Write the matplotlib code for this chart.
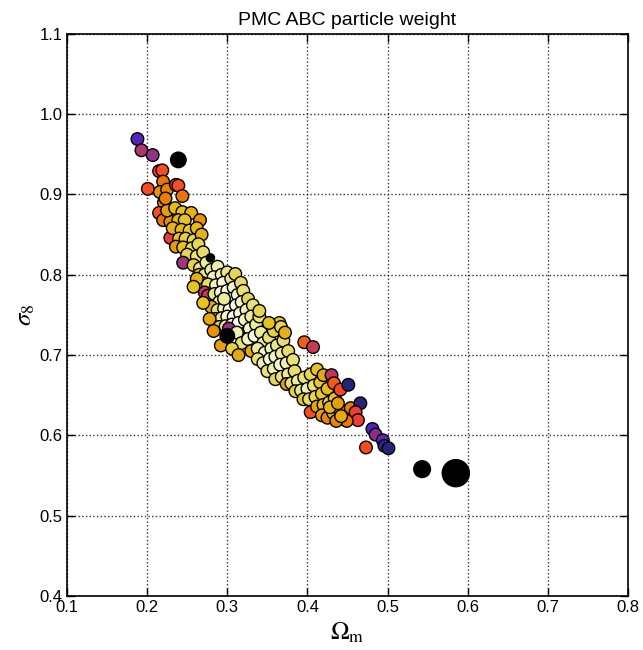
import numpy as np
import matplotlib
matplotlib.use('Agg')
import matplotlib.pyplot as plt

# particle positions (Omega_m, sigma_8) and normalised weights
omega_m = [
    0.201, 0.215, 0.219, 0.220, 0.216, 0.225, 0.221, 0.215, 0.220, 0.229, 0.236, 0.239, 0.244, 0.229, 0.225, 0.223,
    0.235, 0.244, 0.255, 0.239, 0.247, 0.266, 0.232, 0.243, 0.253, 0.262, 0.240, 0.248, 0.258, 0.268, 0.236, 0.245,
    0.256, 0.264, 0.250, 0.262, 0.270, 0.245, 0.258, 0.266, 0.274,
    0.265, 0.272, 0.280, 0.288, 0.283, 0.293, 0.300, 0.268, 0.276, 0.286, 0.295, 0.305, 0.310, 0.272, 0.276, 0.284,
    0.292, 0.300, 0.308, 0.317, 0.290, 0.298, 0.305, 0.313, 0.320, 0.280, 0.288, 0.296, 0.303, 0.311, 0.318, 0.326,
    0.285, 0.293, 0.300, 0.308, 0.316, 0.324, 0.332, 0.290, 0.298, 0.306, 0.314, 0.322, 0.330, 0.302, 0.320, 0.312,
    0.328, 0.336, 0.340, 0.318, 0.326, 0.334, 0.342,
    0.345, 0.352, 0.358, 0.365, 0.367, 0.330, 0.338, 0.347, 0.355, 0.362, 0.370, 0.338, 0.345, 0.353, 0.360, 0.368,
    0.376, 0.350, 0.358, 0.366, 0.374, 0.382, 0.360, 0.368, 0.376, 0.384,
    0.374, 0.380, 0.388, 0.396, 0.404, 0.412, 0.396, 0.407, 0.385, 0.392, 0.400, 0.408, 0.416, 0.420, 0.395, 0.402,
    0.410, 0.418, 0.425, 0.404, 0.412, 0.420, 0.427, 0.434,
    0.418, 0.425, 0.432, 0.440, 0.447, 0.454, 0.430, 0.433, 0.441, 0.451, 0.466, 0.460, 0.463, 0.449, 0.436, 0.442,
    0.428, 0.438,
    0.262, 0.270, 0.278, 0.258, 0.283, 0.292, 0.306, 0.314, 0.296, 0.352, 0.340, 0.372,
    0.473, 0.481, 0.485, 0.494, 0.496, 0.501,
    0.188, 0.193, 0.207,
    0.279, 0.239, 0.300, 0.543, 0.585,
]
sigma_8 = [
    0.907, 0.929, 0.930, 0.916, 0.903, 0.906, 0.890, 0.877, 0.868, 0.866, 0.912, 0.911, 0.898, 0.846, 0.880, 0.895,
    0.883, 0.878, 0.877, 0.868, 0.868, 0.868, 0.858, 0.856, 0.855, 0.858, 0.845, 0.845, 0.843, 0.850, 0.835, 0.834,
    0.833, 0.838, 0.825, 0.823, 0.828, 0.815, 0.812, 0.808, 0.815,
    0.800, 0.800, 0.806, 0.810, 0.797, 0.800, 0.803, 0.790, 0.788, 0.787, 0.790, 0.795, 0.801, 0.778, 0.774, 0.776,
    0.778, 0.780, 0.784, 0.790, 0.766, 0.768, 0.770, 0.775, 0.780, 0.760, 0.756, 0.758, 0.757, 0.762, 0.766, 0.770,
    0.745, 0.746, 0.748, 0.748, 0.752, 0.756, 0.762, 0.735, 0.736, 0.738, 0.740, 0.744, 0.748, 0.733, 0.723, 0.728,
    0.733, 0.738, 0.748, 0.715, 0.720, 0.724, 0.728,
    0.715, 0.722, 0.730, 0.740, 0.735, 0.705, 0.708, 0.703, 0.708, 0.712, 0.718, 0.695, 0.690, 0.695, 0.698, 0.702,
    0.705, 0.680, 0.683, 0.688, 0.690, 0.694, 0.670, 0.673, 0.676, 0.680,
    0.664, 0.665, 0.668, 0.672, 0.676, 0.682, 0.716, 0.710, 0.655, 0.656, 0.658, 0.662, 0.666, 0.675, 0.645, 0.645,
    0.648, 0.652, 0.658, 0.629, 0.636, 0.638, 0.641, 0.646,
    0.625, 0.622, 0.628, 0.632, 0.630, 0.634, 0.675, 0.665, 0.657, 0.663, 0.640, 0.629, 0.619, 0.618, 0.618, 0.624,
    0.635, 0.640,
    0.795, 0.765, 0.745, 0.785, 0.730, 0.712, 0.708, 0.700, 0.770, 0.740, 0.755, 0.728,
    0.585, 0.608, 0.601, 0.594, 0.587, 0.584,
    0.969, 0.955, 0.949,
    0.821, 0.943, 0.724, 0.558, 0.553,
]
weight = [
    0.52, 0.50, 0.52, 0.60, 0.66, 0.64, 0.66, 0.52, 0.60, 0.66, 0.50, 0.52, 0.60, 0.47, 0.68, 0.62,
    0.74, 0.75, 0.72, 0.73, 0.76, 0.66, 0.72, 0.74, 0.78, 0.74, 0.76, 0.80, 0.82, 0.72, 0.68, 0.76,
    0.84, 0.82, 0.82, 0.86, 0.84, 0.38, 0.80, 0.88, 0.90,
    0.72, 0.88, 0.90, 0.92, 0.94, 0.92, 0.88, 0.76, 0.84, 0.94, 0.97, 0.88, 0.82, 0.42, 0.44, 0.88,
    0.96, 0.98, 0.94, 0.84, 0.90, 0.97, 0.99, 0.95, 0.86, 0.70, 0.86, 0.94, 0.97, 0.98, 0.94, 0.82,
    0.74, 0.88, 0.94, 0.98, 0.96, 0.92, 0.86, 0.80, 0.90, 0.96, 0.98, 0.94, 0.90, 0.37, 0.52, 0.92,
    0.94, 0.90, 0.86, 0.86, 0.94, 0.97, 0.90,
    0.90, 0.86, 0.80, 0.76, 0.82, 0.70, 0.90, 0.95, 0.92, 0.88, 0.84, 0.86, 0.92, 0.96, 0.94, 0.90,
    0.84, 0.86, 0.92, 0.95, 0.92, 0.86, 0.82, 0.88, 0.90, 0.84,
    0.68, 0.86, 0.90, 0.86, 0.82, 0.76, 0.56, 0.43, 0.80, 0.88, 0.92, 0.86, 0.78, 0.70, 0.76, 0.84,
    0.82, 0.78, 0.74, 0.52, 0.70, 0.74, 0.80, 0.76,
    0.68, 0.64, 0.74, 0.72, 0.70, 0.62, 0.42, 0.55, 0.50, 0.12, 0.12, 0.48, 0.48, 0.60, 0.64, 0.70,
    0.72, 0.68,
    0.72, 0.76, 0.70, 0.76, 0.66, 0.68, 0.80, 0.70, 0.90, 0.76, 0.82, 0.72,
    0.52, 0.25, 0.35, 0.28, 0.15, 0.12,
    0.26, 0.40, 0.36,
    0.00, 0.00, 0.00, 0.00, 0.00,
]

# the zero-weight particles are drawn with their own marker areas
heavy_area = [35, 125, 110, 145, 380]

omega_m = np.array(omega_m)
sigma_8 = np.array(sigma_8)
weight = np.array(weight)
sizes = np.full(len(weight), 82.0)
sizes[-len(heavy_area):] = heavy_area

plt.rcParams['font.family'] = ['Liberation Sans', 'DejaVu Sans']
plt.rcParams['mathtext.fontset'] = 'stix'
plt.rcParams['xtick.direction'] = 'in'
plt.rcParams['ytick.direction'] = 'in'
plt.rcParams['xtick.top'] = True
plt.rcParams['ytick.right'] = True

fig = plt.figure(figsize=(6.43, 6.5), dpi=100)
ax = fig.add_axes([0.104, 0.083, 0.873, 0.865])

ax.scatter(omega_m, sigma_8, c=weight, s=sizes, cmap='CMRmap', vmin=0, vmax=1,
           edgecolors='k', linewidths=1.0, zorder=3)

ax.set_xlim(0.1, 0.8)
ax.set_ylim(0.4, 1.1)
ax.set_xticks(np.arange(0.1, 0.81, 0.1))
ax.set_yticks(np.arange(0.4, 1.11, 0.1))
ax.set_xticklabels(['0.1', '0.2', '0.3', '0.4', '0.5', '0.6', '0.7', '0.8'])
ax.set_yticklabels(['0.4', '0.5', '0.6', '0.7', '0.8', '0.9', '1.0', '1.1'])
ax.tick_params(labelsize=12, length=6, width=1, pad=3)
ax.grid(True, linestyle=':', color='k', linewidth=1, alpha=0.8)
for s in ax.spines.values():
    s.set_linewidth(1.2)

ax.set_xlabel(r'$\Omega_{\rm m}$', fontsize=18, labelpad=4)
ax.set_ylabel(r'$\sigma_8$', fontsize=18, labelpad=2)
ax.set_title('PMC ABC particle weight', fontsize=14, pad=6)

plt.savefig('out.png', dpi=100, facecolor='white')
